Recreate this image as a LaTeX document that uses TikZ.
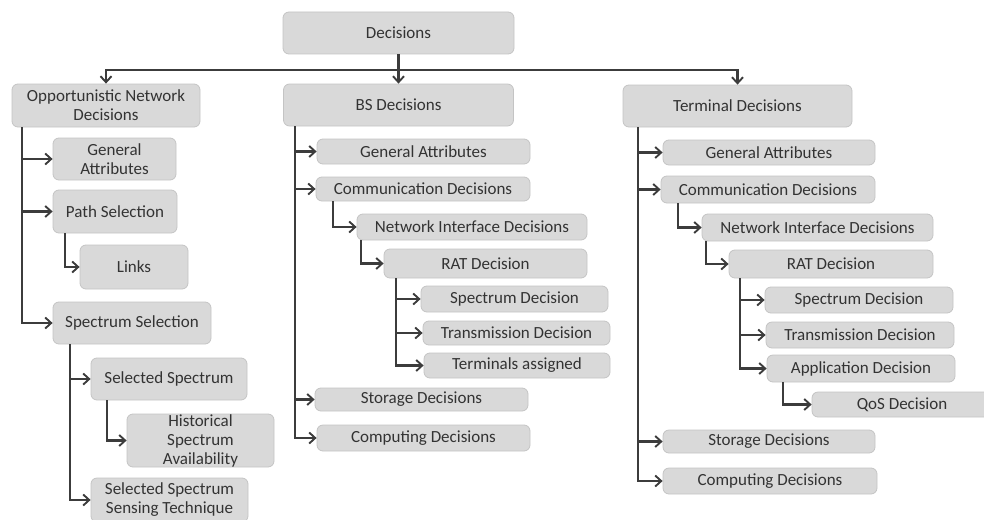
\documentclass[tikz,border=0pt]{standalone}
\usepackage{fontspec}
\setmainfont{Carlito}
\usetikzlibrary{arrows.meta}
\definecolor{boxfill}{HTML}{D9D9D9}
\definecolor{boxline}{HTML}{C4C4C4}
\definecolor{linecol}{HTML}{3C3C3C}
\definecolor{txtcol}{HTML}{333333}
\tikzset{
  box/.style={draw=boxline, line width=0.8pt, fill=boxfill, rounded corners=6pt,
    inner sep=0pt, align=center, text=txtcol,
    font=\fontsize{17}{19}\selectfont},
  conn/.style={draw=linecol, line width=2.2pt,
    -{Straight Barb[length=6pt,width=11pt,line width=1.9pt]}},
}
\newcommand{\bx}[6]{% name, cx, cy, w, h, text
  \node[box, minimum width=#4pt, minimum height=#5pt] (#1) at (#2,#3) {#6};}
\begin{document}
\begin{tikzpicture}[x=1pt,y=-1pt]
\useasboundingbox (0,0) rectangle (984,519);

% top level
\bx{dec}{398.5}{33}{231}{42}{Decisions}
\bx{ond}{106}{105.5}{188}{43}{Opportunistic Network\\Decisions}
\bx{bs}{398.5}{105}{230}{42}{BS Decisions}
\bx{term}{737.5}{106}{229}{42}{Terminal Decisions}

% opportunistic network branch
\bx{oga}{114.5}{159}{123}{42}{General\\Attributes}
\bx{ops}{115}{211.5}{124}{43}{Path Selection}
\bx{olk}{134}{267}{108}{44}{Links}
\bx{oss}{132}{323}{158}{42}{Spectrum Selection}
\bx{osel}{169}{379}{156}{42}{Selected Spectrum}
\bx{ohist}{200.5}{440.5}{147}{53}{Historical\\Spectrum\\Availability}
\bx{osens}{169.5}{500}{157}{44}{Selected Spectrum\\Sensing Technique}

% BS branch
\bx{bga}{423.5}{151.5}{213}{25}{General Attributes}
\bx{bcd}{423}{189}{214}{24}{Communication Decisions}
\bx{bni}{472}{227}{230}{26}{Network Interface Decisions}
\bx{brat}{485.5}{263.5}{203}{29}{RAT Decision}
\bx{bsd}{514.5}{299}{187}{26}{Spectrum Decision}
\bx{btd}{516.5}{333}{187}{24}{Transmission Decision}
\bx{bta}{517}{365.5}{186}{25}{Terminals assigned}
\bx{bst}{421.5}{399.5}{213}{23}{Storage Decisions}
\bx{bcp}{423.5}{438}{213}{26}{Computing Decisions}

% terminal branch
\bx{tga}{769}{152.5}{212}{25}{General Attributes}
\bx{tcd}{768}{189.5}{214}{27}{Communication Decisions}
\bx{tni}{817.5}{227.5}{231}{27}{Network Interface Decisions}
\bx{trat}{831}{264}{204}{28}{RAT Decision}
\bx{tsd}{859}{300}{188}{26}{Spectrum Decision}
\bx{ttd}{860}{335}{188}{26}{Transmission Decision}
\bx{tad}{861}{368.5}{188}{27}{Application Decision}
\bx{tqos}{902}{404.5}{180}{25}{QoS Decision}
\bx{tst}{769}{441.5}{212}{23}{Storage Decisions}
\bx{tcp}{770}{481}{214}{26}{Computing Decisions}

% trunk positions
\coordinate (hub) at (398.5,70);
\coordinate (xo) at (22,0);
\coordinate (xops) at (65,0);
\coordinate (xoss) at (70,0);
\coordinate (xosel) at (107,0);
\coordinate (xb) at (295,0);
\coordinate (xbcd) at (333,0);
\coordinate (xbni) at (361,0);
\coordinate (xbrat) at (396,0);
\coordinate (xt) at (638,0);
\coordinate (xtcd) at (678,0);
\coordinate (xtni) at (706,0);
\coordinate (xtrat) at (740,0);
\coordinate (xtad) at (783,0);

% top connectors
\draw[conn] (dec.south) -- (bs.north);
\draw[conn] (hub) -| (ond.north);
\draw[conn] (hub) -| (term.north);

% opportunistic network connectors
\foreach \c in {oga,ops,oss}
  \draw[conn] (ond.south -| xo) |- (\c.west);
\draw[conn] (ops.south -| xops) |- (olk.west);
\foreach \c in {osel,osens}
  \draw[conn] (oss.south -| xoss) |- (\c.west);
\draw[conn] (osel.south -| xosel) |- (ohist.west);

% BS connectors
\foreach \c in {bga,bcd,bst,bcp}
  \draw[conn] (bs.south -| xb) |- (\c.west);
\draw[conn] (bcd.south -| xbcd) |- (bni.west);
\draw[conn] (bni.south -| xbni) |- (brat.west);
\foreach \c in {bsd,btd,bta}
  \draw[conn] (brat.south -| xbrat) |- (\c.west);

% terminal connectors
\foreach \c in {tga,tcd,tst,tcp}
  \draw[conn] (term.south -| xt) |- (\c.west);
\draw[conn] (tcd.south -| xtcd) |- (tni.west);
\draw[conn] (tni.south -| xtni) |- (trat.west);
\foreach \c in {tsd,ttd,tad}
  \draw[conn] (trat.south -| xtrat) |- (\c.west);
\draw[conn] (tad.south -| xtad) |- (tqos.west);
\end{tikzpicture}
\end{document}
